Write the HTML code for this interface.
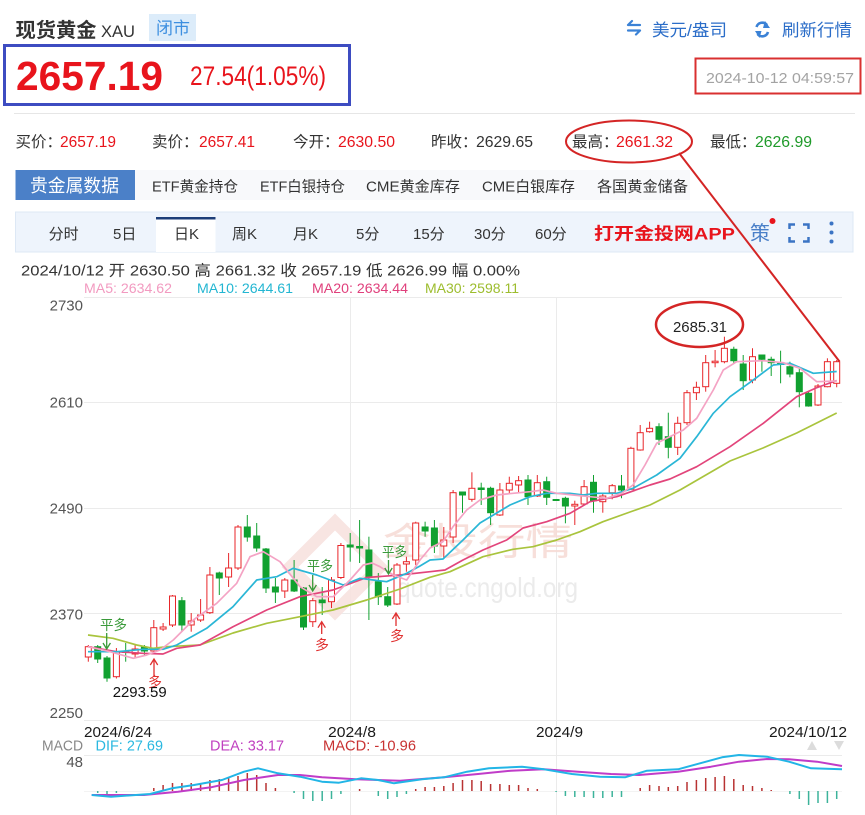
<!DOCTYPE html>
<html>
<head>
<meta charset="utf-8">
<style>
html,body{margin:0;padding:0;background:#fff;}
body{width:865px;height:815px;overflow:hidden;}
svg{display:block;}
.r line{stroke:#e8262a;stroke-width:1;}
.r rect{stroke:#e8262a;stroke-width:1;fill:#fff;}
.g line{stroke:#11a130;stroke-width:1;}
.g rect{stroke:#11a130;stroke-width:1;fill:#11a130;}
.hr line{stroke:#b83232;stroke-width:1.5;}
.hg line{stroke:#3cb39a;stroke-width:1.5;}
</style>
</head>
<body>
<svg width="865" height="815" viewBox="0 0 865 815" xmlns="http://www.w3.org/2000/svg" font-family="'Liberation Sans','Noto Sans CJK SC',sans-serif">
<!-- Header -->
<text x="15.5" y="37" font-size="20" font-weight="bold" fill="#333" textLength="81" lengthAdjust="spacingAndGlyphs">现货黄金</text>
<text x="101" y="37" font-size="17" fill="#333" textLength="34" lengthAdjust="spacingAndGlyphs">XAU</text>
<rect x="149" y="14" width="47" height="27" fill="#dcecfa"/>
<text x="156" y="34" font-size="17" fill="#3d8fe0" textLength="34" lengthAdjust="spacingAndGlyphs">闭市</text>

<g stroke="#3b82d6" stroke-width="2.2" fill="none" stroke-linecap="round">
<path d="M628,25 H640 M628,25 L632,21"/>
<path d="M628,30.5 H640 M640,30.5 L636,34.5"/>
</g>
<text x="652" y="36" font-size="17" fill="#2b6dc8" textLength="75" lengthAdjust="spacingAndGlyphs">美元/盎司</text>
<g stroke="#3b82d6" stroke-width="2.6" fill="none">
<path d="M756.5,27 A6,6 0 0 1 767,25"/>
<path d="M768,32 A6,6 0 0 1 757.5,34"/>
</g>
<polygon points="765,21 770,28 763,28" fill="#3b82d6"/>
<polygon points="759.5,38 755,31 761.5,31" fill="#3b82d6"/>
<text x="782" y="36" font-size="17" fill="#2b6dc8" textLength="70" lengthAdjust="spacingAndGlyphs">刷新行情</text>

<!-- Price box -->
<rect x="4.5" y="45.5" width="345" height="59" fill="none" stroke="#3d4cc1" stroke-width="3"/>
<text x="16" y="90" font-size="41" font-weight="bold" fill="#e8141c" textLength="147" lengthAdjust="spacingAndGlyphs">2657.19</text>
<text x="190" y="85" font-size="27" fill="#e8141c" textLength="136" lengthAdjust="spacingAndGlyphs">27.54(1.05%)</text>

<rect x="695.5" y="58.5" width="165" height="35" fill="none" stroke="#d93030" stroke-width="2"/>
<text x="706" y="83" font-size="15" fill="#a3a3a3" textLength="148" lengthAdjust="spacingAndGlyphs">2024-10-12 04:59:57</text>

<line x1="14" y1="113.5" x2="855" y2="113.5" stroke="#e6e6e6" stroke-width="1"/>

<!-- Info row -->
<g font-size="15.5">
<text x="15.5" y="147" fill="#333">买价：</text>
<text x="60" y="147" fill="#e8141c" textLength="56" lengthAdjust="spacingAndGlyphs">2657.19</text>
<text x="152" y="147" fill="#333">卖价：</text>
<text x="199" y="147" fill="#e8141c" textLength="56" lengthAdjust="spacingAndGlyphs">2657.41</text>
<text x="293" y="147" fill="#333">今开：</text>
<text x="338" y="147" fill="#e8141c" textLength="57" lengthAdjust="spacingAndGlyphs">2630.50</text>
<text x="431" y="147" fill="#333">昨收：</text>
<text x="476" y="147" fill="#333" textLength="57" lengthAdjust="spacingAndGlyphs">2629.65</text>
<text x="572" y="147" fill="#333">最高：</text>
<text x="616" y="147" fill="#e8141c" textLength="57" lengthAdjust="spacingAndGlyphs">2661.32</text>
<text x="710" y="147" fill="#333">最低：</text>
<text x="755" y="147" fill="#1f9a2a" textLength="57" lengthAdjust="spacingAndGlyphs">2626.99</text>
</g>

<!-- Tabs -->
<rect x="135" y="170" width="555" height="30" fill="#f8f9fb"/>
<rect x="15.5" y="170" width="119.5" height="30" fill="#4b80c8"/>
<text x="30" y="192" font-size="18" fill="#fff" textLength="89" lengthAdjust="spacingAndGlyphs">贵金属数据</text>
<g font-size="15" fill="#333">
<text x="152" y="191.5" textLength="86" lengthAdjust="spacingAndGlyphs">ETF黄金持仓</text>
<text x="260" y="191.5" textLength="85" lengthAdjust="spacingAndGlyphs">ETF白银持仓</text>
<text x="366" y="191.5" textLength="94" lengthAdjust="spacingAndGlyphs">CME黄金库存</text>
<text x="482" y="191.5" textLength="93" lengthAdjust="spacingAndGlyphs">CME白银库存</text>
<text x="597" y="191.5" textLength="91" lengthAdjust="spacingAndGlyphs">各国黄金储备</text>
</g>

<!-- Period bar -->
<rect x="15.5" y="212" width="837.5" height="40" fill="#eef4fc" stroke="#dde8f5" stroke-width="1"/>
<rect x="156" y="217" width="59.5" height="35" fill="#fff"/>
<line x1="156" y1="218.2" x2="215.5" y2="218.2" stroke="#1d3e78" stroke-width="2.5"/>
<g font-size="15" fill="#333">
<text x="48.6" y="239">分时</text>
<text x="113" y="239">5日</text>
<text x="174" y="239">日K</text>
<text x="232" y="239">周K</text>
<text x="293" y="239">月K</text>
<text x="356" y="239">5分</text>
<text x="413" y="239">15分</text>
<text x="474" y="239">30分</text>
<text x="535" y="239">60分</text>
</g>
<text x="594" y="239.5" font-size="17" font-weight="bold" fill="#e8141c" textLength="141" lengthAdjust="spacingAndGlyphs">打开金投网APP</text>
<text x="750" y="240" font-size="20" fill="#4a7fc8">策</text>
<circle cx="772.5" cy="221" r="3" fill="#e8141c"/>
<g stroke="#3b74c4" stroke-width="2.5" fill="none">
<path d="M789.5,229 V224.5 H795 M803,224.5 H808.5 V229 M808.5,237 V241.5 H803 M795,241.5 H789.5 V237"/>
</g>
<circle cx="831.5" cy="223.5" r="2" fill="#3b74c4"/>
<circle cx="831.5" cy="232.5" r="2" fill="#3b74c4"/>
<circle cx="831.5" cy="241.5" r="2" fill="#3b74c4"/>

<!-- Quote row -->
<text x="21" y="275.5" font-size="15" fill="#333" textLength="499" lengthAdjust="spacingAndGlyphs">2024/10/12 开 2630.50 高 2661.32 收 2657.19 低 2626.99 幅 0.00%</text>
<g font-size="14">
<text x="84" y="293" fill="#f29ac0" textLength="88" lengthAdjust="spacingAndGlyphs">MA5: 2634.62</text>
<text x="197" y="293" fill="#23b6d2" textLength="96" lengthAdjust="spacingAndGlyphs">MA10: 2644.61</text>
<text x="312" y="293" fill="#e0407c" textLength="96" lengthAdjust="spacingAndGlyphs">MA20: 2634.44</text>
<text x="425" y="293" fill="#9dbd2e" textLength="94" lengthAdjust="spacingAndGlyphs">MA30: 2598.11</text>
</g>

<!-- Grid -->
<g stroke="#ebebeb" stroke-width="1">
<line x1="84" y1="297.5" x2="842" y2="297.5"/>
<line x1="84" y1="402.5" x2="842" y2="402.5"/>
<line x1="84" y1="508.5" x2="842" y2="508.5"/>
<line x1="84" y1="613.5" x2="842" y2="613.5"/>
<line x1="84" y1="720.5" x2="842" y2="720.5"/>
<line x1="84" y1="755.5" x2="842" y2="755.5"/>
<line x1="350.5" y1="297" x2="350.5" y2="815"/>
<line x1="556.5" y1="297" x2="556.5" y2="815"/>
</g>
<line x1="84" y1="791.5" x2="842" y2="791.5" stroke="#f3f3f3" stroke-width="1"/>

<!-- Y labels -->
<g font-size="15" fill="#555" text-anchor="end">
<text x="83" y="310.7">2730</text>
<text x="83" y="407.5">2610</text>
<text x="83" y="513.5">2490</text>
<text x="83" y="619.5">2370</text>
<text x="83" y="717.8">2250</text>
</g>

<!-- Watermark -->
<g opacity="0.9">
<polygon points="335,522 380,567 335,612 290,567" fill="none" stroke="#f8e3df" stroke-width="12"/>
<text x="383" y="555" font-size="38" fill="#f7dcd7" textLength="190" lengthAdjust="spacingAndGlyphs">金投行情</text>
<text x="397" y="597" font-size="28" fill="#e9e9e9" textLength="181" lengthAdjust="spacingAndGlyphs">quote.cngold.org</text>
</g>

<!-- Candles -->
<g class="r"><line x1="88.3" y1="645" x2="88.3" y2="661.7"/><rect x="85.3" y="646.7" width="6" height="10.3"/></g>
<g class="g"><line x1="97.7" y1="645" x2="97.7" y2="663"/><rect x="94.7" y="646.7" width="6" height="12.3"/></g>
<g class="g"><line x1="107" y1="656" x2="107" y2="681.7"/><rect x="104" y="658" width="6" height="20"/></g>
<g class="r"><line x1="116.4" y1="648" x2="116.4" y2="678.5"/><rect x="113.4" y="652" width="6" height="24.7"/></g>
<g class="g"><line x1="125.7" y1="643" x2="125.7" y2="661.7"/><rect x="122.7" y="651.5" width="6" height="1"/></g>
<g class="r"><line x1="135.1" y1="645" x2="135.1" y2="658"/><rect x="132.1" y="649" width="6" height="5"/></g>
<g class="g"><line x1="144.4" y1="645" x2="144.4" y2="656"/><rect x="141.4" y="647" width="6" height="4"/></g>
<g class="r"><line x1="153.8" y1="620" x2="153.8" y2="653"/><rect x="150.8" y="627.7" width="6" height="23.3"/></g>
<g class="r"><line x1="163.1" y1="623" x2="163.1" y2="631"/><rect x="160.1" y="627" width="6" height="2"/></g>
<g class="r"><line x1="172.5" y1="595" x2="172.5" y2="627"/><rect x="169.5" y="596" width="6" height="29"/></g>
<g class="g"><line x1="181.9" y1="597" x2="181.9" y2="631.7"/><rect x="178.9" y="600.7" width="6" height="24.3"/></g>
<g class="r"><line x1="191.2" y1="613" x2="191.2" y2="631.7"/><rect x="188.2" y="621" width="6" height="4"/></g>
<g class="r"><line x1="200.6" y1="599" x2="200.6" y2="622"/><rect x="197.6" y="615" width="6" height="5"/></g>
<g class="r"><line x1="209.9" y1="567" x2="209.9" y2="614"/><rect x="206.9" y="575" width="6" height="37.7"/></g>
<g class="g"><line x1="219.3" y1="571.7" x2="219.3" y2="595"/><rect x="216.3" y="573" width="6" height="5"/></g>
<g class="r"><line x1="228.6" y1="553" x2="228.6" y2="587"/><rect x="225.6" y="568" width="6" height="9"/></g>
<g class="r"><line x1="238" y1="525" x2="238" y2="570"/><rect x="235" y="527" width="6" height="41"/></g>
<g class="g"><line x1="247.3" y1="515" x2="247.3" y2="541.7"/><rect x="244.3" y="527" width="6" height="10"/></g>
<g class="g"><line x1="256.7" y1="523" x2="256.7" y2="551.7"/><rect x="253.7" y="536" width="6" height="12"/></g>
<g class="g"><line x1="266" y1="548" x2="266" y2="593"/><rect x="263" y="549" width="6" height="39"/></g>
<g class="g"><line x1="275.4" y1="578" x2="275.4" y2="603"/><rect x="272.4" y="587" width="6" height="5"/></g>
<g class="r"><line x1="284.8" y1="578" x2="284.8" y2="598"/><rect x="281.8" y="580" width="6" height="11"/></g>
<g class="g"><line x1="294.1" y1="560" x2="294.1" y2="592"/><rect x="291.1" y="580" width="6" height="11"/></g>
<g class="g"><line x1="303.5" y1="587" x2="303.5" y2="630"/><rect x="300.5" y="588" width="6" height="39"/></g>
<g class="r"><line x1="312.8" y1="598" x2="312.8" y2="627"/><rect x="309.8" y="600.7" width="6" height="21"/></g>
<g class="g"><line x1="322.2" y1="587" x2="322.2" y2="615"/><rect x="319.2" y="600" width="6" height="2.7"/></g>
<g class="r"><line x1="331.5" y1="577" x2="331.5" y2="608"/><rect x="328.5" y="580" width="6" height="21.7"/></g>
<g class="r"><line x1="340.9" y1="543" x2="340.9" y2="579"/><rect x="337.9" y="545.5" width="6" height="32"/></g>
<g class="g"><line x1="350.2" y1="533" x2="350.2" y2="561.7"/><rect x="347.2" y="545" width="6" height="2"/></g>
<g class="g"><line x1="359.6" y1="520" x2="359.6" y2="563"/><rect x="356.6" y="546.5" width="6" height="1.5"/></g>
<g class="g"><line x1="368.9" y1="536.7" x2="368.9" y2="620"/><rect x="365.9" y="550" width="6" height="26.7"/></g>
<g class="g"><line x1="378.3" y1="573" x2="378.3" y2="605"/><rect x="375.3" y="581.7" width="6" height="15"/></g>
<g class="g"><line x1="387.7" y1="587" x2="387.7" y2="607"/><rect x="384.7" y="596.7" width="6" height="8.3"/></g>
<g class="r"><line x1="397" y1="563" x2="397" y2="605"/><rect x="394" y="565" width="6" height="39"/></g>
<g class="r"><line x1="406.4" y1="556.7" x2="406.4" y2="571.7"/><rect x="403.4" y="561.7" width="6" height="2.3"/></g>
<g class="r"><line x1="415.7" y1="521.7" x2="415.7" y2="565"/><rect x="412.7" y="523" width="6" height="37"/></g>
<g class="g"><line x1="425.1" y1="521.7" x2="425.1" y2="536.7"/><rect x="422.1" y="527" width="6" height="4"/></g>
<g class="g"><line x1="434.4" y1="520" x2="434.4" y2="553"/><rect x="431.4" y="528" width="6" height="18"/></g>
<g class="r"><line x1="443.8" y1="527" x2="443.8" y2="558"/><rect x="440.8" y="540" width="6" height="6"/></g>
<g class="r"><line x1="453.1" y1="490" x2="453.1" y2="543"/><rect x="450.1" y="492.7" width="6" height="44.3"/></g>
<g class="g"><line x1="462.5" y1="491.7" x2="462.5" y2="512.7"/><rect x="459.5" y="492" width="6" height="3"/></g>
<g class="r"><line x1="471.9" y1="472.3" x2="471.9" y2="501.7"/><rect x="468.9" y="488.3" width="6" height="11"/></g>
<g class="g"><line x1="481.2" y1="482.7" x2="481.2" y2="505"/><rect x="478.2" y="488" width="6" height="1.5"/></g>
<g class="g"><line x1="490.6" y1="486.7" x2="490.6" y2="525"/><rect x="487.6" y="488.3" width="6" height="24.4"/></g>
<g class="r"><line x1="499.9" y1="483" x2="499.9" y2="516"/><rect x="496.9" y="490" width="6" height="25"/></g>
<g class="r"><line x1="509.3" y1="476.7" x2="509.3" y2="493"/><rect x="506.3" y="483.3" width="6" height="6.7"/></g>
<g class="r"><line x1="518.6" y1="476" x2="518.6" y2="493.3"/><rect x="515.6" y="480.7" width="6" height="4.3"/></g>
<g class="g"><line x1="528" y1="475" x2="528" y2="505"/><rect x="525" y="480" width="6" height="16.7"/></g>
<g class="r"><line x1="537.3" y1="475" x2="537.3" y2="497"/><rect x="534.3" y="482.7" width="6" height="13.3"/></g>
<g class="g"><line x1="546.7" y1="476.7" x2="546.7" y2="505"/><rect x="543.7" y="481.7" width="6" height="15.6"/></g>
<g class="g"><rect x="553.1" y="499.5" width="6" height="1"/></g>
<g class="g"><line x1="565.4" y1="496.7" x2="565.4" y2="523.3"/><rect x="562.4" y="498.3" width="6" height="7.7"/></g>
<g class="r"><line x1="574.8" y1="500.7" x2="574.8" y2="525"/><rect x="571.8" y="504.3" width="6" height="1.7"/></g>
<g class="r"><line x1="584.1" y1="480" x2="584.1" y2="505"/><rect x="581.1" y="486.7" width="6" height="17.3"/></g>
<g class="g"><line x1="593.5" y1="475" x2="593.5" y2="512.7"/><rect x="590.5" y="482.3" width="6" height="18.4"/></g>
<g class="r"><line x1="602.8" y1="493.3" x2="602.8" y2="512.7"/><rect x="599.8" y="496" width="6" height="5.7"/></g>
<g class="r"><line x1="612.2" y1="484" x2="612.2" y2="499.3"/><rect x="609.2" y="485.7" width="6" height="7"/></g>
<g class="g"><line x1="621.5" y1="475" x2="621.5" y2="498.3"/><rect x="618.5" y="486" width="6" height="4"/></g>
<g class="r"><line x1="630.9" y1="446.7" x2="630.9" y2="490"/><rect x="627.9" y="448.3" width="6" height="41"/></g>
<g class="r"><line x1="640.2" y1="425" x2="640.2" y2="450.7"/><rect x="637.2" y="432.7" width="6" height="17.3"/></g>
<g class="r"><line x1="649.6" y1="421.7" x2="649.6" y2="432.7"/><rect x="646.6" y="428.3" width="6" height="3.4"/></g>
<g class="g"><line x1="659" y1="423.3" x2="659" y2="445"/><rect x="656" y="426.7" width="6" height="12.6"/></g>
<g class="g"><line x1="668.3" y1="412.7" x2="668.3" y2="458.3"/><rect x="665.3" y="436.7" width="6" height="10.6"/></g>
<g class="r"><line x1="677.7" y1="416.7" x2="677.7" y2="455"/><rect x="674.7" y="423.3" width="6" height="24"/></g>
<g class="r"><line x1="687" y1="390" x2="687" y2="425"/><rect x="684" y="392.7" width="6" height="30"/></g>
<g class="r"><line x1="696.4" y1="381.7" x2="696.4" y2="400"/><rect x="693.4" y="387.3" width="6" height="5.4"/></g>
<g class="r"><line x1="705.7" y1="355" x2="705.7" y2="391.7"/><rect x="702.7" y="362.7" width="6" height="24"/></g>
<g class="r"><line x1="715.1" y1="350" x2="715.1" y2="367.3"/><rect x="712.1" y="361.2" width="6" height="1.5"/></g>
<g class="r"><line x1="724.4" y1="336.7" x2="724.4" y2="363.3"/><rect x="721.4" y="348.3" width="6" height="13.4"/></g>
<g class="g"><line x1="733.8" y1="346.7" x2="733.8" y2="363.3"/><rect x="730.8" y="349.3" width="6" height="11.4"/></g>
<g class="g"><line x1="743.2" y1="355" x2="743.2" y2="390"/><rect x="740.2" y="364" width="6" height="16.7"/></g>
<g class="r"><line x1="752.5" y1="348.3" x2="752.5" y2="383.3"/><rect x="749.5" y="356.7" width="6" height="23.3"/></g>
<g class="g"><line x1="761.9" y1="355" x2="761.9" y2="371.7"/><rect x="758.9" y="355" width="6" height="4.3"/></g>
<g class="g"><line x1="771.2" y1="356.7" x2="771.2" y2="376"/><rect x="768.2" y="359.3" width="6" height="3.4"/></g>
<g class="g"><line x1="780.6" y1="350.7" x2="780.6" y2="383.3"/><rect x="777.6" y="363.5" width="6" height="1"/></g>
<g class="g"><line x1="789.9" y1="361.7" x2="789.9" y2="377.3"/><rect x="786.9" y="366.7" width="6" height="7.3"/></g>
<g class="g"><line x1="799.3" y1="366.7" x2="799.3" y2="407.3"/><rect x="796.3" y="372.7" width="6" height="19"/></g>
<g class="g"><line x1="808.6" y1="391.7" x2="808.6" y2="406.7"/><rect x="805.6" y="393.3" width="6" height="12.7"/></g>
<g class="r"><line x1="818" y1="384" x2="818" y2="406"/><rect x="815" y="386" width="6" height="19"/></g>
<g class="r"><line x1="827.4" y1="358.3" x2="827.4" y2="387.3"/><rect x="824.4" y="361.7" width="6" height="25"/></g>
<g class="r"><line x1="836.7" y1="360" x2="836.7" y2="387.3"/><rect x="833.7" y="361.7" width="6" height="21.6"/></g>

<!-- MA lines -->
<g fill="none" stroke-width="1.7" stroke-linejoin="round">
<polyline stroke="#a9c43d" points="88,635 113,638.3 136.7,645 153,648.3 166.7,646.7 200,645 233,633 266.7,623.3 300,616.7 333,610 366.7,600 400,589 430,577.3 450,571.7 483,556.7 513,549.3 533,546.7 556.7,540 580,531.7 603,521.7 630,512 650,505 680,490 730,461 763,448 796.7,433 836.7,413"/>
<polyline stroke="#e2457b" points="88,646.7 116.7,651.7 143,653.3 163,654 176.7,648.3 200,645 233,626.7 266.7,610 300,596.7 333,590 366.7,577.5 400,575 430,571.7 445,570 463,560 483,550 506.7,540 523,528 546.7,521.7 570,513.3 590,501.7 616.7,496.7 650,485 670,479 696.7,466.7 730,446.7 763.3,423.3 796.7,396.7 816,388 836.7,380.5"/>
<polyline stroke="#2ab6d6" points="88,651.7 116.7,651.7 143,649.3 163,649.3 176.7,645 206.7,628.3 233,606.7 256.7,580 276.7,576.7 293.3,568.3 316.7,575 343.3,585 360,578.3 386.7,581.7 406.7,573.3 420,566 430,560 443,559 463,540 480,523 496.7,513 510,505 530,496.7 546.7,493.3 570,493.3 583,495 596.7,493.3 616.7,493.3 633,488.3 656.7,475 680,458.3 696.7,436.7 713.3,413.3 730,396.7 753.3,380 773.3,365 790,363.3 813.3,373.3 836.7,371.5"/>
<polyline stroke="#f4a3c4" points="88,646.7 110,651.7 133.3,658.3 146.7,655 160,650 173.3,640 193.3,620 216.7,603.3 236.7,583.3 250,556.7 263.3,551.7 280,561.7 300,586.7 316.7,596.7 333.3,596.7 350,580 363.3,565 372,563 380,566.7 393.3,575 406.7,580 420,560 430,548 443,541.7 453,526.7 466.7,510 480,500 496.7,495 513,493.3 530,491.7 543,490 556.7,493.3 573,495 590,496.7 606.7,498.3 621.7,493.3 633,485 645,465 656.7,443.3 683.3,430 696.7,418.3 713.3,390 723.3,370 736.7,361.7 763.3,360.7 783.3,362.7 800,368.3 816.7,381.7 836.7,381"/>
</g>

<!-- Annotations: 平多 / 多 -->
<g font-size="14" fill="#3a9a3a">
<text x="100" y="630" textLength="27" lengthAdjust="spacingAndGlyphs">平多</text>
<text x="307" y="571" textLength="26" lengthAdjust="spacingAndGlyphs">平多</text>
<text x="382" y="557" textLength="25" lengthAdjust="spacingAndGlyphs">平多</text>
</g>
<g stroke="#3a9a3a" stroke-width="1.3" fill="none">
<path d="M106.7,633 V649 M103,643 L106.7,649 L110.4,643"/>
<path d="M312.7,575 V591 M309,585 L312.7,591 L316.4,585"/>
<path d="M388.5,560 V574 M384.8,568 L388.5,574 L392.2,568"/>
</g>
<g stroke="#e03030" stroke-width="1.3" fill="none">
<path d="M154,659 V677 M150.3,665 L154,659 L157.7,665"/>
<path d="M321.7,621.7 V634 M318,627.7 L321.7,621.7 L325.4,627.7"/>
<path d="M396,613 V626 M392.3,619 L396,613 L399.7,619"/>
</g>
<g font-size="14" fill="#e03030">
<text x="148" y="687">多</text>
<text x="315" y="650">多</text>
<text x="390" y="641">多</text>
</g>

<text x="112.7" y="697" font-size="15" fill="#111" textLength="54" lengthAdjust="spacingAndGlyphs">2293.59</text>
<text x="673" y="332" font-size="15" fill="#222" textLength="54" lengthAdjust="spacingAndGlyphs">2685.31</text>
<ellipse cx="699.5" cy="324.5" rx="43.5" ry="22.5" fill="none" stroke="#d42525" stroke-width="2.5"/>

<!-- Red callout ellipse and line -->
<ellipse cx="629" cy="141.5" rx="63" ry="21" fill="none" stroke="#d42525" stroke-width="2"/>
<line x1="679" y1="153" x2="839.5" y2="361.5" stroke="#d42525" stroke-width="2"/>

<!-- X labels -->
<g font-size="15" fill="#1a1a1a">
<text x="84" y="737" textLength="68" lengthAdjust="spacingAndGlyphs">2024/6/24</text>
<text x="328" y="737" textLength="48" lengthAdjust="spacingAndGlyphs">2024/8</text>
<text x="536" y="737" textLength="47" lengthAdjust="spacingAndGlyphs">2024/9</text>
<text x="769" y="737" textLength="78" lengthAdjust="spacingAndGlyphs">2024/10/12</text>
</g>

<!-- MACD header -->
<g font-size="15">
<text x="42" y="750.5" fill="#888" textLength="41" lengthAdjust="spacingAndGlyphs">MACD</text>
<text x="95.5" y="750.5" fill="#2ab8e0" textLength="67.5" lengthAdjust="spacingAndGlyphs">DIF: 27.69</text>
<text x="210" y="750.5" fill="#c040c0" textLength="74" lengthAdjust="spacingAndGlyphs">DEA: 33.17</text>
<text x="323" y="750.5" fill="#c83232" textLength="93" lengthAdjust="spacingAndGlyphs">MACD: -10.96</text>
</g>
<polygon points="807,750 817,750 812,741" fill="#dcdcdc"/>
<polygon points="834,741 844,741 839,750" fill="#dcdcdc"/>
<text x="83" y="767" font-size="15" fill="#555" text-anchor="end">48</text>

<!-- MACD histogram -->
<g class="hg">
<line x1="97.7" y1="791" x2="97.7" y2="793"/>
<line x1="107" y1="791" x2="107" y2="794"/>
<line x1="116.4" y1="791" x2="116.4" y2="793"/>
<line x1="294.1" y1="791" x2="294.1" y2="793"/>
<line x1="303.5" y1="791" x2="303.5" y2="799"/>
<line x1="312.8" y1="791" x2="312.8" y2="801"/>
<line x1="322.2" y1="791" x2="322.2" y2="801"/>
<line x1="331.5" y1="791" x2="331.5" y2="799"/>
<line x1="340.9" y1="791" x2="340.9" y2="794"/>
<line x1="378.3" y1="791" x2="378.3" y2="796"/>
<line x1="387.7" y1="791" x2="387.7" y2="799"/>
<line x1="397" y1="791" x2="397" y2="797"/>
<line x1="406.4" y1="791" x2="406.4" y2="794"/>
<line x1="556.1" y1="791" x2="556.1" y2="792"/>
<line x1="565.4" y1="791" x2="565.4" y2="796"/>
<line x1="574.8" y1="791" x2="574.8" y2="797"/>
<line x1="584.1" y1="791" x2="584.1" y2="797"/>
<line x1="593.5" y1="791" x2="593.5" y2="798"/>
<line x1="602.8" y1="791" x2="602.8" y2="798"/>
<line x1="612.2" y1="791" x2="612.2" y2="797"/>
<line x1="621.5" y1="791" x2="621.5" y2="797"/>
<line x1="789.9" y1="791" x2="789.9" y2="794"/>
<line x1="799.3" y1="791" x2="799.3" y2="799"/>
<line x1="808.6" y1="791" x2="808.6" y2="805"/>
<line x1="818" y1="791" x2="818" y2="803"/>
<line x1="827.4" y1="791" x2="827.4" y2="803"/>
<line x1="836.7" y1="791" x2="836.7" y2="799"/>
</g>
<g class="hr">
<line x1="153.8" y1="791" x2="153.8" y2="788"/>
<line x1="163.1" y1="791" x2="163.1" y2="785"/>
<line x1="172.5" y1="791" x2="172.5" y2="783"/>
<line x1="181.9" y1="791" x2="181.9" y2="783"/>
<line x1="191.2" y1="791" x2="191.2" y2="783"/>
<line x1="200.6" y1="791" x2="200.6" y2="784"/>
<line x1="209.9" y1="791" x2="209.9" y2="780"/>
<line x1="219.3" y1="791" x2="219.3" y2="779"/>
<line x1="228.6" y1="791" x2="228.6" y2="777"/>
<line x1="238" y1="791" x2="238" y2="776"/>
<line x1="247.3" y1="791" x2="247.3" y2="773"/>
<line x1="256.7" y1="791" x2="256.7" y2="775"/>
<line x1="266" y1="791" x2="266" y2="783"/>
<line x1="275.4" y1="791" x2="275.4" y2="788"/>
<line x1="359.6" y1="791" x2="359.6" y2="789"/>
<line x1="415.7" y1="791" x2="415.7" y2="789"/>
<line x1="425.1" y1="791" x2="425.1" y2="787"/>
<line x1="434.4" y1="791" x2="434.4" y2="787"/>
<line x1="443.8" y1="791" x2="443.8" y2="786"/>
<line x1="453.1" y1="791" x2="453.1" y2="783"/>
<line x1="462.5" y1="791" x2="462.5" y2="780"/>
<line x1="471.9" y1="791" x2="471.9" y2="780"/>
<line x1="481.2" y1="791" x2="481.2" y2="781"/>
<line x1="490.6" y1="791" x2="490.6" y2="784"/>
<line x1="499.9" y1="791" x2="499.9" y2="784"/>
<line x1="509.3" y1="791" x2="509.3" y2="785"/>
<line x1="518.6" y1="791" x2="518.6" y2="785"/>
<line x1="528" y1="791" x2="528" y2="788"/>
<line x1="537.3" y1="791" x2="537.3" y2="789"/>
<line x1="640.2" y1="791" x2="640.2" y2="788"/>
<line x1="649.6" y1="791" x2="649.6" y2="785"/>
<line x1="659" y1="791" x2="659" y2="786"/>
<line x1="668.3" y1="791" x2="668.3" y2="787"/>
<line x1="677.7" y1="791" x2="677.7" y2="786"/>
<line x1="687" y1="791" x2="687" y2="782"/>
<line x1="696.4" y1="791" x2="696.4" y2="780"/>
<line x1="705.7" y1="791" x2="705.7" y2="778"/>
<line x1="715.1" y1="791" x2="715.1" y2="777"/>
<line x1="724.4" y1="791" x2="724.4" y2="776"/>
<line x1="733.8" y1="791" x2="733.8" y2="779"/>
<line x1="743.2" y1="791" x2="743.2" y2="785"/>
<line x1="752.5" y1="791" x2="752.5" y2="786"/>
<line x1="761.9" y1="791" x2="761.9" y2="788"/>
<line x1="771.2" y1="791" x2="771.2" y2="790"/>
</g>

<!-- DIF / DEA -->
<g fill="none" stroke-width="2" stroke-linejoin="round">
<polyline stroke="#c03cc8" points="91.7,795 144,795 178,791.7 211,787.3 244,780 278,775 300,775 322,777.3 356,779.3 400,780.7 444,777.3 478,774 511,770.7 544,769.3 578,771.7 611,774 639,775 678,771.7 711,766.7 739,761.7 767,759 789,759.3 817,761.7 842,766"/>
<polyline stroke="#22b5e6" points="91.7,795 111,796.7 150,794 172,788.3 194,785 222,780 244,771.7 258,768.3 278,773.3 300,776.7 322,781.7 339,782.7 361,778.3 378,780 394,783.3 422,779.3 444,777.3 467,771.7 489,768.3 522,766.7 544,769.3 572,774 600,776.7 625,777.3 647,770.7 678,769.3 700,763.3 722,757.3 739,755 767,756.7 789,761.7 811,768.3 842,769.3"/>
</g>
</svg>
</body>
</html>
